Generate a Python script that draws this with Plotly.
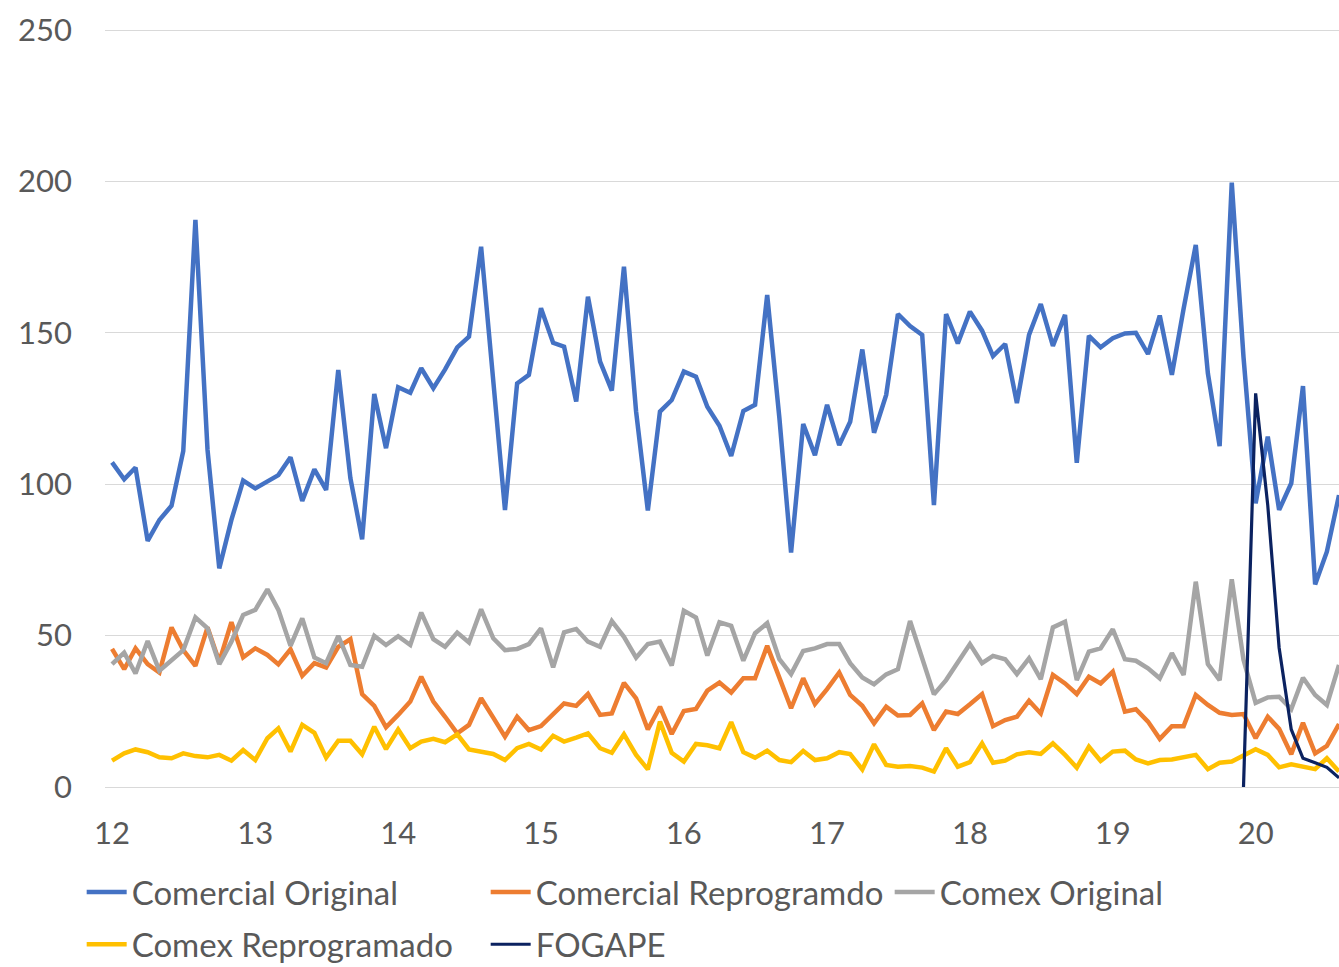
import pandas as pd
import plotly.graph_objects as go

# Monthly series, January 2012 to August 2020
months = pd.date_range("2012-01-01", periods=104, freq="MS")

comercial_original = [
    107.2, 101.6, 105.5, 81.3, 88.2, 92.9, 111.0, 187.3, 111.3, 72.2, 88.2, 101.2,
    98.6, 100.8, 103.0, 108.9, 94.5, 104.9, 98.1, 137.7, 102.0, 81.8, 129.8, 111.9,
    132.0, 130.2, 138.3, 131.7, 137.9, 145.2, 148.7, 178.4, 133.0, 91.5, 133.3, 136.1,
    158.1, 146.7, 145.4, 127.3, 161.9, 140.5, 130.9, 171.8, 124.0, 91.3, 124.0, 127.8,
    137.2, 135.5, 125.6, 119.3, 109.3, 124.2, 126.2, 162.5, 122.0, 77.4, 119.9, 109.6,
    126.2, 112.9, 120.6, 144.5, 117.0, 129.5, 156.2, 152.2, 149.3, 93.1, 156.2, 146.5,
    157.0, 150.7, 142.3, 146.3, 126.8, 149.3, 159.5, 145.7, 155.9, 107.1, 149.0, 145.2,
    148.2, 149.8, 150.0, 143.0, 155.7, 136.1, 158.0, 179.0, 136.6, 112.6, 199.6, 142.0,
    93.7, 115.7, 91.5, 100.3, 132.4, 66.9, 77.7, 96.4,
]

comercial_reprogramado = [
    45.6, 38.9, 45.8, 40.6, 37.8, 52.7, 45.2, 40.0, 52.7, 41.4, 54.4, 42.8,
    45.8, 43.6, 40.5, 45.5, 36.7, 40.9, 39.5, 46.3, 48.8, 30.7, 26.8, 19.7,
    23.8, 28.2, 36.4, 28.2, 23.2, 17.7, 20.5, 29.3, 22.9, 16.6, 23.2, 18.8,
    20.1, 23.8, 27.6, 26.8, 30.7, 23.8, 24.3, 34.4, 29.3, 19.0, 26.5, 17.5,
    25.1, 25.8, 31.8, 34.5, 31.2, 35.9, 35.9, 46.6, 36.2, 26.0, 35.9, 27.4,
    32.3, 37.8, 30.4, 26.8, 21.0, 26.5, 23.6, 23.8, 27.6, 18.8, 24.9, 24.1,
    27.3, 30.7, 20.1, 22.1, 23.2, 28.5, 24.3, 37.0, 34.2, 30.7, 36.4, 34.2,
    38.1, 24.9, 25.7, 21.6, 15.9, 20.1, 20.1, 30.4, 27.1, 24.5, 23.8, 24.1,
    16.1, 23.2, 19.2, 10.8, 21.2, 11.1, 13.6, 20.8,
]

comex_original = [
    40.6, 44.4, 37.5, 48.2, 38.4, 41.7, 45.2, 56.0, 52.4, 40.6, 48.0, 56.8,
    58.5, 65.3, 58.5, 46.6, 55.7, 42.8, 40.9, 49.9, 40.3, 39.7, 49.9, 46.9,
    49.8, 46.9, 57.6, 48.8, 46.3, 51.0, 47.7, 58.7, 49.1, 45.2, 45.6, 47.2,
    52.4, 39.5, 51.1, 52.2, 48.0, 46.3, 54.8, 49.6, 42.7, 47.2, 48.0, 40.1,
    58.2, 56.0, 43.4, 54.4, 53.2, 41.7, 50.8, 54.1, 42.2, 37.3, 44.9, 45.8,
    47.2, 47.2, 40.9, 36.2, 33.9, 37.2, 38.9, 54.8, 42.7, 30.6, 35.3, 41.4,
    47.2, 40.9, 43.3, 42.2, 37.3, 42.5, 35.6, 52.7, 54.6, 35.3, 44.7, 45.8,
    52.1, 42.2, 41.7, 39.2, 35.9, 44.2, 37.0, 67.8, 40.6, 35.3, 68.6, 42.0,
    27.8, 29.6, 29.8, 25.7, 36.1, 30.4, 27.1, 40.3,
]

comex_reprogramado = [
    8.7, 11.1, 12.4, 11.5, 9.8, 9.5, 11.1, 10.2, 9.8, 10.6, 8.7, 12.2,
    8.9, 16.1, 19.4, 11.7, 20.5, 17.9, 9.7, 15.3, 15.3, 10.8, 19.9, 12.5,
    19.0, 12.8, 15.0, 15.9, 14.8, 17.4, 12.4, 11.5, 10.9, 8.9, 12.8, 14.2,
    12.4, 16.9, 15.0, 16.3, 17.7, 12.8, 11.3, 17.4, 10.6, 5.8, 21.6, 11.3,
    8.4, 14.2, 13.8, 12.8, 21.4, 11.5, 9.7, 12.0, 8.9, 8.2, 11.9, 8.9,
    9.5, 11.5, 10.9, 5.8, 14.1, 7.3, 6.7, 6.9, 6.4, 5.1, 12.8, 6.7,
    8.2, 14.4, 8.0, 8.7, 10.8, 11.5, 10.9, 14.4, 10.6, 6.4, 13.3, 8.6,
    11.7, 12.0, 9.1, 7.8, 8.9, 9.1, 9.8, 10.6, 5.9, 8.0, 8.4, 10.3,
    12.5, 10.6, 6.5, 7.5, 6.9, 5.9, 9.5, 5.1,
]

# FOGAPE only exists from December 2019 onwards
fogape = [None] * 95 + [0.0, 130.0, 93.0, 46.0, 19.0, 9.5, 8.0, 6.5, 3.0]

year_ticks = pd.date_range("2012-01-01", periods=9, freq="YS")
year_labels = ["12", "13", "14", "15", "16", "17", "18", "19", "20"]

series = [
    ("Comercial Original", comercial_original, "#4472C4", 4.5, "legend"),
    ("Comercial Reprogramdo", comercial_reprogramado, "#ED7D31", 4.5, "legend"),
    ("Comex Original", comex_original, "#A5A5A5", 4.5, "legend"),
    ("Comex Reprogramado", comex_reprogramado, "#FFC000", 4.5, "legend2"),
    ("FOGAPE", fogape, "#0B2260", 3.2, "legend2"),
]

FONT = "Lato"
TEXT = "#595959"

fig = go.Figure()
for name, values, color, width, leg in series:
    fig.add_trace(go.Scatter(
        x=months, y=values, name=name, mode="lines",
        line=dict(color=color, width=width),
        connectgaps=False, legend=leg,
    ))

legend_common = dict(
    orientation="h", xanchor="left", yanchor="middle",
    xref="container", yref="container",
    font=dict(family=FONT, size=33, color=TEXT),
    entrywidth=349, entrywidthmode="pixels",
    itemwidth=40, bgcolor="rgba(0,0,0,0)",
    traceorder="normal",
)

fig.update_layout(
    width=1339, height=967,
    margin=dict(l=105, r=0, t=28, b=180),
    paper_bgcolor="white", plot_bgcolor="white",
    font=dict(family=FONT, size=31, color=TEXT),
    showlegend=True,
    legend=dict(x=0.061, y=0.0775, **legend_common),
    legend2=dict(x=0.061, y=0.0235, **legend_common),
    xaxis=dict(
        range=["2011-12-14", "2020-08-01"],
        tickmode="array", tickvals=year_ticks, ticktext=year_labels,
        showgrid=False, zeroline=False, showline=False, ticks="",
        tickfont=dict(family=FONT, size=31, color=TEXT),
        ticklabelstandoff=25,
    ),
    yaxis=dict(
        range=[0, 250.66], tickvals=[0, 50, 100, 150, 200, 250],
        showgrid=True, gridcolor="#D9D9D9", gridwidth=1.3,
        zeroline=True, zerolinecolor="#D9D9D9", zerolinewidth=1.3,
        showline=False, ticks="",
        tickfont=dict(family=FONT, size=31, color=TEXT),
        ticklabelstandoff=32,
    ),
)

fig.write_html("out.html")
